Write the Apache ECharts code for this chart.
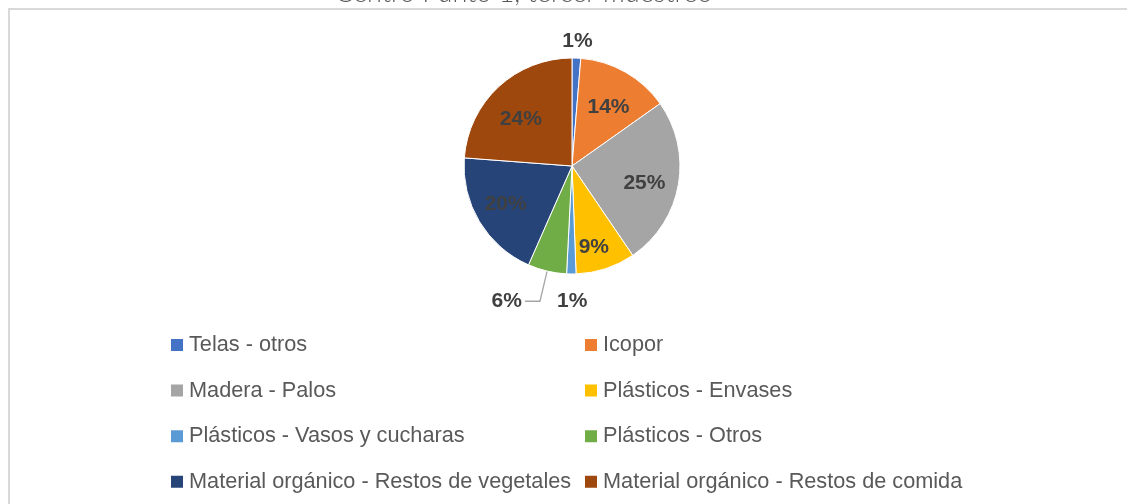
<!DOCTYPE html>
<html>
<head>
<meta charset="utf-8">
<script src="https://cdn.jsdelivr.net/npm/echarts@6/dist/echarts.min.js"></script>
<style>
  html, body { margin: 0; padding: 0; background: #fff; }
  #chart { width: 1127px; height: 504px; }
</style>
</head>
<body>
<div id="chart"></div>
<script>
// data (percent of total)
var categories = [
  'Telas - otros',
  'Icopor',
  'Madera - Palos',
  'Plásticos - Envases',
  'Plásticos - Vasos y cucharas',
  'Plásticos - Otros',
  'Material orgánico - Restos de vegetales',
  'Material orgánico - Restos de comida'
];
var values = [1.3, 13.9, 25.3, 8.9, 1.4, 5.8, 19.6, 23.8];
var colors = ['#4472c4', '#ed7d31', '#a5a5a5', '#ffc000', '#5b9bd5', '#70ad47', '#264478', '#9e480e'];
// where each slice's label sits: inside, outside (no line), leader (with line)
var labelPlace = ['outside', 'inside', 'inside', 'inside', 'outside', 'leader', 'inside', 'inside'];

var chartTitle = 'Centro Punto 1, tercer muestreo';

// layout / style
var R = 108;
var center = [572, 166];
// small label nudges (px) so labels sit where Excel put them
var labelNudge = {
  'Telas - otros': [0, 9],
  'Icopor': [-3, 10],
  'Madera - Palos': [-6, 3],
  'Plásticos - Envases': [-3, 6],
  'Plásticos - Vasos y cucharas': [1, 2],
  'Material orgánico - Restos de vegetales': [2, -3],
  'Material orgánico - Restos de comida': [3, 12]
};

var labelFont = {
  fontFamily: 'Liberation Sans, Arial, sans-serif',
  fontWeight: 'bold',
  fontSize: 21,
  color: '#404040'
};

function pct(p) { return Math.round(p.percent) + '%'; }

function dataFor(place) {
  return categories.map(function (name, i) {
    var lab = { show: labelPlace[i] === place };
    if (labelNudge[name]) lab.offset = labelNudge[name];
    return { name: name, value: values[i], label: lab };
  });
}

var chart = echarts.init(document.getElementById('chart'), null, { renderer: 'canvas' });

var legendText = {
  fontFamily: 'Liberation Sans, Arial, sans-serif',
  fontSize: 21.7,
  color: '#595959',
  lineHeight: 20
};
var leftNames = [categories[0], categories[2], categories[4], categories[6]];
var rightNames = [categories[1], categories[3], categories[5], categories[7]];

chart.setOption({
  animation: false,
  color: colors,
  title: {
    text: chartTitle,
    left: 330,
    top: -25,
    textStyle: { fontFamily: 'Lato, sans-serif', fontWeight: 300, fontSize: 27, color: '#595959' }
  },
  graphic: [{
    type: 'rect',
    shape: { x: 9, y: 9, width: 1200, height: 600 },
    style: { fill: 'none', stroke: '#d9d9d9', lineWidth: 2 },
    silent: true
  }],
  legend: [{
    orient: 'vertical',
    left: 164,
    top: 329,
    itemWidth: 14,
    itemHeight: 14,
    itemGap: 23.6,
    icon: 'rect',
    data: leftNames,
    textStyle: legendText
  }, {
    orient: 'vertical',
    left: 578,
    top: 329,
    itemWidth: 14,
    itemHeight: 14,
    itemGap: 23.6,
    icon: 'rect',
    data: rightNames,
    textStyle: legendText
  }],
  series: [{
    // the pie itself, with the leader-line label
    type: 'pie',
    center: center,
    radius: [0, R],
    startAngle: 90,
    clockwise: true,
    silent: true,
    itemStyle: { borderColor: '#fff', borderWidth: 1 },
    label: Object.assign({ position: 'outside', formatter: pct, distanceToLabelLine: 3 }, labelFont),
    labelLine: { show: true, length: 31, length2: 15, smooth: false, lineStyle: { color: '#a6a6a6', width: 1.3 } },
    data: dataFor('leader')
  }, {
    // transparent ring carrying the inside labels further out than the midpoint
    type: 'pie',
    center: center,
    radius: [R * 0.42, R],
    startAngle: 90,
    clockwise: true,
    silent: true,
    legendHoverLink: false,
    itemStyle: { color: 'rgba(0,0,0,0)' },
    label: Object.assign({ position: 'inside', formatter: pct }, labelFont),
    labelLine: { show: false },
    data: dataFor('inside')
  }, {
    // transparent ring outside the pie carrying the small outside labels
    type: 'pie',
    center: center,
    radius: [R, R * 1.42],
    startAngle: 90,
    clockwise: true,
    silent: true,
    legendHoverLink: false,
    itemStyle: { color: 'rgba(0,0,0,0)' },
    label: Object.assign({ position: 'inside', formatter: pct }, labelFont),
    labelLine: { show: false },
    data: dataFor('outside')
  }]
});
</script>
</body>
</html>
